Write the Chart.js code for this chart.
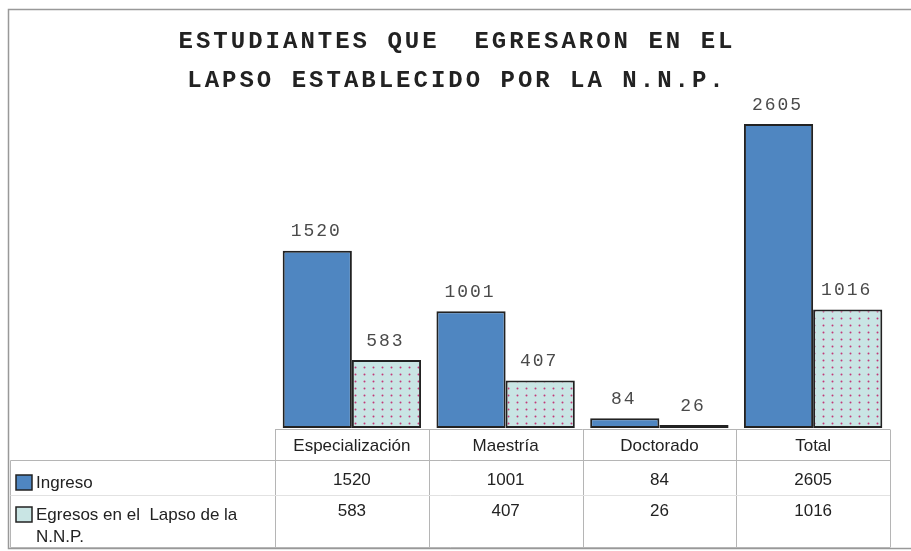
<!DOCTYPE html>
<html>
<head>
<meta charset="utf-8">
<script src="https://cdn.jsdelivr.net/npm/chart.js@4.4.1/dist/chart.umd.min.js"></script>
<style>
  body { margin: 0; background: #fff; }
  canvas { display: block; }
</style>
</head>
<body>
<canvas id="chart" width="911" height="551"></canvas>
<script>
// chart data
const categories = ["Especialización", "Maestría", "Doctorado", "Total"];
const ingreso = [1520, 1001, 84, 2605];
const egresos = [583, 407, 26, 1016];
const seriesNames = ["Ingreso", ["Egresos en el  Lapso de la", "N.N.P."]];
const titleLines = ["ESTUDIANTES QUE  EGRESARON EN EL", "LAPSO ESTABLECIDO POR LA N.N.P."];

const BLUE = "#4f86c1";
const TEAL = "#c9e5e4";

// dotted fill for the second series
function makeDots() {
  const c = document.createElement("canvas");
  c.width = 9; c.height = 7;
  const g = c.getContext("2d");
  g.fillStyle = TEAL;
  g.fillRect(0, 0, 9, 7);
  g.fillStyle = "#c23a78";
  g.beginPath();
  g.arc(4.5, 3.5, 1, 0, Math.PI * 2);
  g.fill();
  return g.createPattern(c, "repeat");
}
const dots = makeDots();

// title, frame, value labels and the data table under the bars
const extras = {
  id: "extras",
  afterDraw(chart) {
    const ctx = chart.ctx;
    const area = chart.chartArea;
    const x = chart.scales.x;

    ctx.save();
    // outer frame
    ctx.strokeStyle = "#999";
    ctx.lineWidth = 1.5;
    ctx.strokeRect(8.5, 9.5, 1000, 539);

    // title
    ctx.fillStyle = "#222";
    ctx.font = "bold 24px 'Liberation Mono', 'Courier New', monospace";
    ctx.letterSpacing = "3px";
    ctx.textAlign = "center";
    ctx.textBaseline = "alphabetic";
    ctx.fillText(titleLines[0], 457, 48);
    ctx.fillText(titleLines[1], 457, 87);

    // value labels above bars
    ctx.font = "18px 'Liberation Mono', 'Courier New', monospace";
    ctx.letterSpacing = "2px";
    ctx.fillStyle = "#4a4a4a";
    ctx.textBaseline = "middle";
    chart.data.datasets.forEach((ds, i) => {
      chart.getDatasetMeta(i).data.forEach((bar, j) => {
        ctx.fillText(String(ds.data[j]), bar.x - 1, bar.y - 19);
      });
    });
    ctx.letterSpacing = "0px";

    // table grid
    const colW = (area.right - area.left) / categories.length;
    const top = 429.5, r1 = 460.5, r2 = 495.5, bot = 547.5, left = 10.5;
    ctx.lineWidth = 1;
    ctx.strokeStyle = "#b5b5b5";
    ctx.beginPath();
    ctx.moveTo(area.left, top); ctx.lineTo(area.right, top);
    ctx.moveTo(left, r1); ctx.lineTo(area.right, r1);
    ctx.moveTo(left, bot); ctx.lineTo(area.right, bot);
    ctx.moveTo(left, r1); ctx.lineTo(left, bot);
    for (let i = 0; i <= categories.length; i++) {
      const cx = Math.round(area.left + i * colW) + 0.5;
      ctx.moveTo(cx, top); ctx.lineTo(cx, bot);
    }
    ctx.stroke();
    ctx.strokeStyle = "#e2e2e2";
    ctx.beginPath();
    ctx.moveTo(left, r2); ctx.lineTo(area.right, r2);
    ctx.stroke();

    // table text
    ctx.font = "17px 'Liberation Sans', Arial, sans-serif";
    ctx.fillStyle = "#222";
    ctx.textAlign = "center";
    categories.forEach((c, i) => {
      const cx = x.getPixelForValue(i);
      ctx.fillText(c, cx, 446);
      ctx.fillText(String(ingreso[i]), cx, 480);
      ctx.fillText(String(egresos[i]), cx, 511);
    });

    // legend column
    ctx.textAlign = "left";
    ctx.lineWidth = 1.5;
    ctx.strokeStyle = "#222";
    ctx.fillStyle = BLUE;
    ctx.fillRect(16, 475, 16, 15);
    ctx.strokeRect(16, 475, 16, 15);
    ctx.fillStyle = TEAL;
    ctx.fillRect(16, 507, 16, 15);
    ctx.strokeRect(16, 507, 16, 15);
    ctx.fillStyle = "#222";
    ctx.fillText(seriesNames[0], 36, 483);
    ctx.fillText(seriesNames[1][0], 36, 515);
    ctx.fillText(seriesNames[1][1], 36, 537);
    ctx.restore();
  }
};

new Chart(document.getElementById("chart"), {
  type: "bar",
  data: {
    labels: categories,
    datasets: [
      {
        label: "Ingreso",
        data: ingreso,
        backgroundColor: BLUE,
        borderColor: "#222",
        borderWidth: 2,
        borderSkipped: false
      },
      {
        label: "Egresos en el Lapso de la N.N.P.",
        data: egresos,
        backgroundColor: dots,
        borderColor: "#222",
        borderWidth: 2,
        borderSkipped: false
      }
    ]
  },
  options: {
    responsive: false,
    animation: false,
    devicePixelRatio: 1,
    layout: { padding: { left: 275, right: 21, top: 78, bottom: 123 } },
    datasets: { bar: { categoryPercentage: 0.9, barPercentage: 1.0 } },
    plugins: {
      legend: { display: false },
      title: { display: false },
      tooltip: { enabled: false }
    },
    scales: {
      x: { display: false },
      y: { display: false, min: 0, max: 3000 }
    }
  },
  plugins: [extras]
});
</script>
</body>
</html>
